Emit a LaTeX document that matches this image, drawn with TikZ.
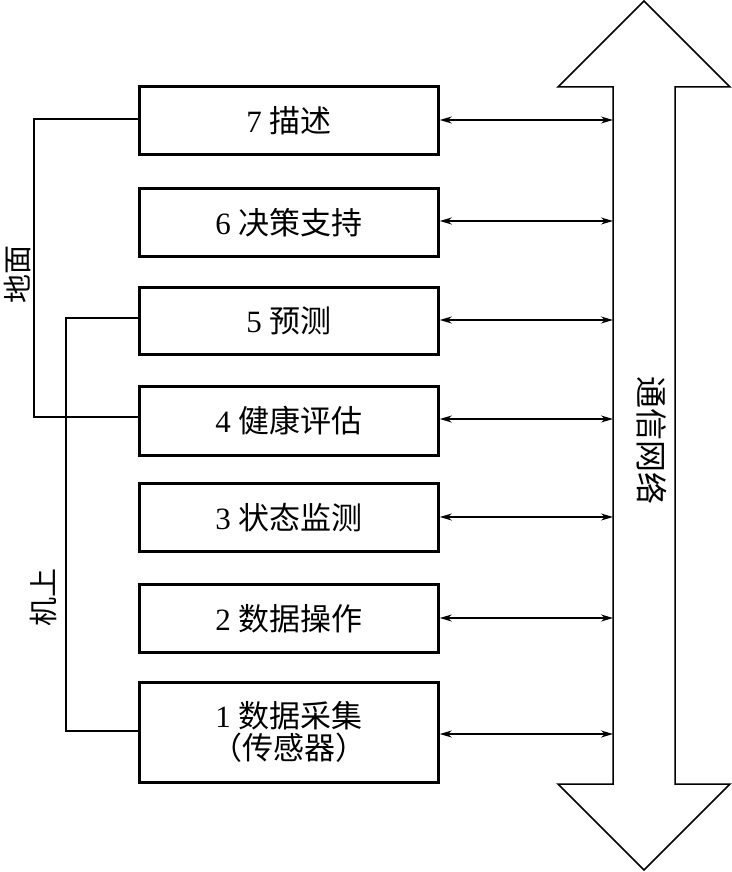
\documentclass[tikz,border=0pt]{standalone}
\usepackage{fontspec}
\setmainfont{Liberation Serif}
\newfontfamily\cjk{Noto Sans CJK SC}
\usetikzlibrary{arrows.meta}
\begin{document}
\begin{tikzpicture}[x=1pt,y=-1pt,
  blk/.style={draw,line width=2.8pt,minimum width=299pt,anchor=north west,inner sep=0pt,font=\fontsize{31}{34}\selectfont,align=center},
  thinln/.style={line width=1.3pt},
  darr/.style={line width=1.2pt,{Stealth[length=12pt,width=7pt]}-{Stealth[length=12pt,width=7pt]}},
  lbl/.style={font=\cjk\fontsize{29}{32}\selectfont}]
\useasboundingbox (0,0) rectangle (731,872);
\node[blk,minimum height=68pt] (b7) at (138,85) {7 {\cjk 描述}};
\node[blk,minimum height=68pt] (b6) at (138,187) {6 {\cjk 决策支持}};
\node[blk,minimum height=67pt] (b5) at (138,286) {5 {\cjk 预测}};
\node[blk,minimum height=69pt] (b4) at (138,385) {4 {\cjk 健康评估}};
\node[blk,minimum height=68pt] (b3) at (138,482) {3 {\cjk 状态监测}};
\node[blk,minimum height=68pt] (b2) at (138,583) {2 {\cjk 数据操作}};
\node[blk,minimum height=100pt] (b1) at (138,681) {1 {\cjk 数据采集}\\[-2pt]{\cjk （传感器）}};
% big double arrow
\draw[line width=1.5pt] (644,1) -- (730,87) -- (675,87) -- (675,784) -- (730,784) -- (644,870) -- (558,784) -- (613,784) -- (613,87) -- (558,87) -- cycle;
\node[lbl,rotate=-90,font=\cjk\fontsize{32}{34}\selectfont] (tn) at (652,440) {通信网络};
% double arrows
\foreach \b/\y in {b7/120,b6/221,b5/320,b4/419,b3/517,b2/618,b1/734}{
  \coordinate (e\b) at (613,\y);
  \draw[darr] (\b.east |- 0,\y) -- (e\b);
}
% ground
\coordinate (g1) at (34,119);
\coordinate (g2) at (34,417);
\draw[thinln] (b7.west |- g1) -- (g1) -- (g2) -- (b4.west |- g2);
\node[lbl,rotate=90] (gl) at (17,274) {地面};
% onboard
\coordinate (o1) at (66,318);
\coordinate (o2) at (66,731);
\draw[thinln] (b5.west |- o1) -- (o1) -- (o2) -- (b1.west |- o2);
\node[lbl,rotate=90] (ol) at (43,597) {机上};
\end{tikzpicture}
\end{document}
